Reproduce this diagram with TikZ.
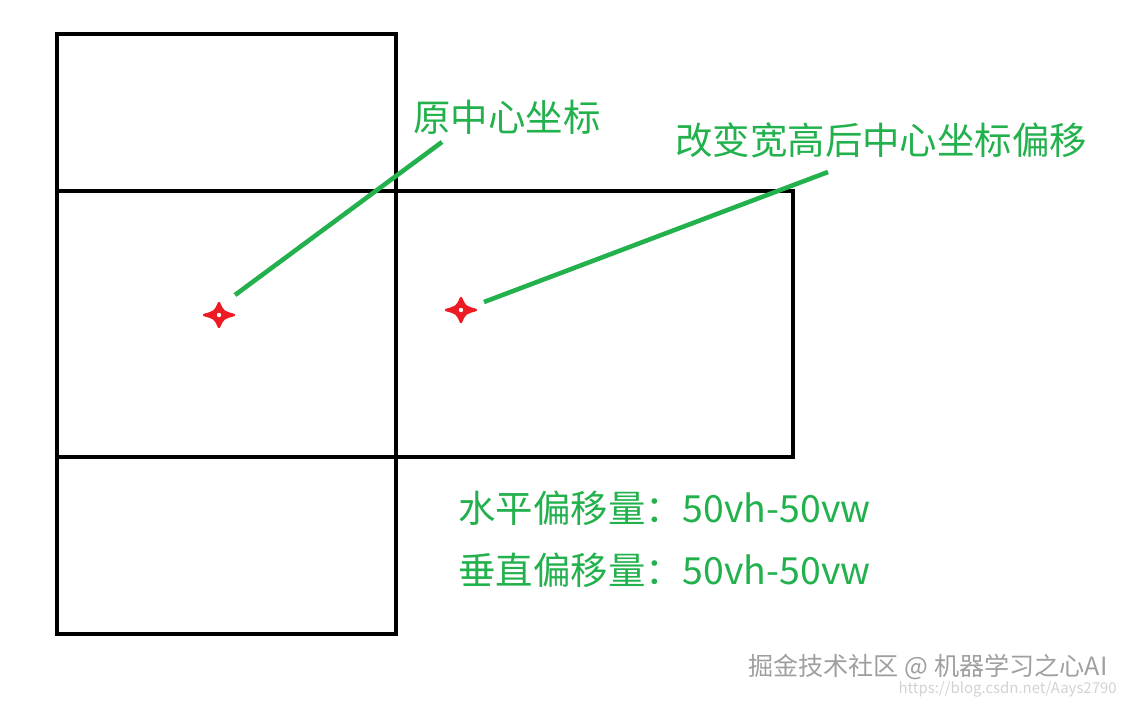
\documentclass[tikz,border=0pt]{standalone}
\usepackage{fontspec}
\setmainfont{Noto Sans CJK SC}
\definecolor{paintgreen}{RGB}{34,177,76}
\definecolor{paintred}{RGB}{237,28,36}
\tikzset{
  box/.style={draw=black,line width=2.3pt},
  label/.style={text=paintgreen,font=\fontsize{21.3}{25}\selectfont,inner sep=0pt},
  pointer/.style={draw=paintgreen,line width=2.6pt},
  marker/.style={fill=paintred,draw=paintred,line width=1.4pt,line join=round}
}
\begin{document}
\begin{tikzpicture}[x=0.02cm,y=-0.02cm]
      \useasboundingbox (0,0) rectangle (1127,704);
      % boxes
      \draw[box] (57,34) rectangle (396,634);
      \draw[box] (57,191) -- (793,191) -- (793,457) -- (57,457);
      \draw[box] (396,191) -- (396,457);
      % centre marks
      \foreach \name/\cx/\cy in {old/219/315,new/461/310} {
        \fill[marker] (\cx-15,\cy) .. controls (\cx-4,\cy-3) .. (\cx,\cy-12)
          .. controls (\cx+4,\cy-3) .. (\cx+15,\cy)
          .. controls (\cx+4,\cy+3) .. (\cx,\cy+12)
          .. controls (\cx-4,\cy+3) .. cycle;
        \fill[white] (\cx,\cy) circle (2.2);
        \coordinate (\name) at (\cx,\cy);
      }
      % labels
      \begin{scope}[every node/.style={label,anchor=west}]
        \node (oldtext) at (413,117) {原中心坐标};
        \node (newtext) at (675,140) {改变宽高后中心坐标偏移};
        \node (horiz) at (458,508) {水平偏移量：50vh-50vw};
        \node (vert) at (458,570) {垂直偏移量：50vh-50vw};
      \end{scope}
      \coordinate (oldtip) at (235,295);
      \coordinate (oldend) at (442,142);
      \coordinate (newtip) at (484,302);
      \coordinate (newend) at (828,172);
      \path[pointer] (oldtip) edge (oldend);
      \path[pointer] (newtip) edge (newend);
      % watermark
      \node[anchor=west,text=gray!75,font=\fontsize{14.3}{15}\selectfont,inner sep=0pt] (mark) at (748,667) {掘金技术社区 @ 机器学习之心AI};
      \node[anchor=east,text=gray!35,font=\fontsize{8.5}{10}\selectfont,inner sep=0pt] (url) at (1117,689) {https://blog.csdn.net/Aays2790};
    \end{tikzpicture}
\end{document}
